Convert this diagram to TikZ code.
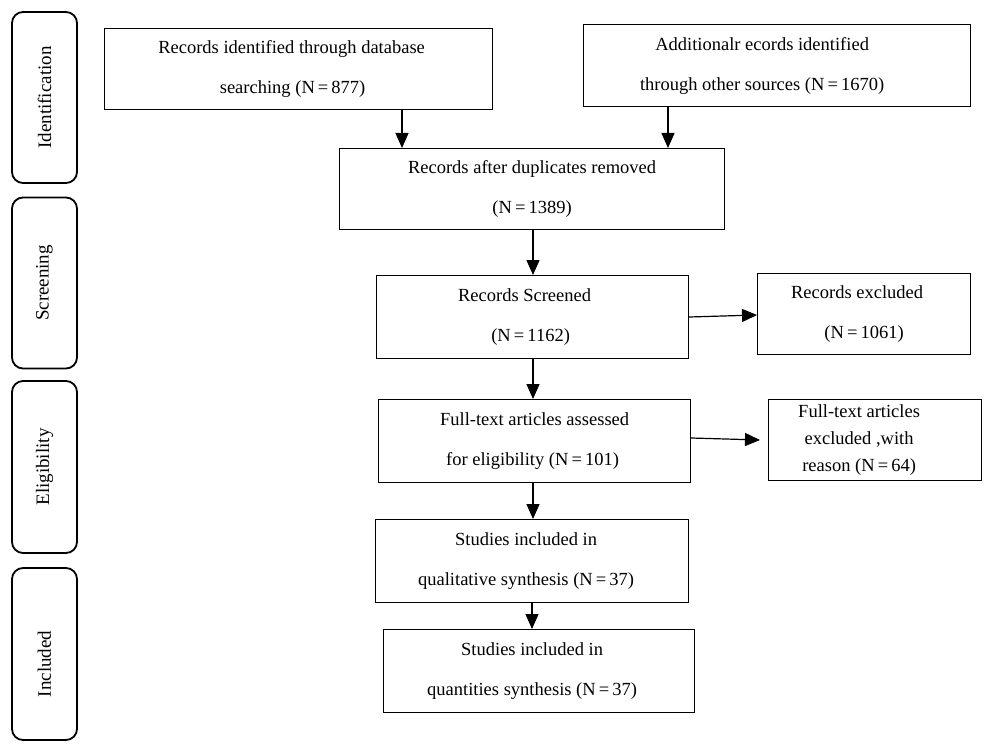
\documentclass[tikz,border=0pt]{standalone}
\usepackage{fontspec}
\setmainfont{Liberation Serif}
\usetikzlibrary{arrows.meta,calc}
\newcommand\shl[1]{\hspace*{-#1pt}}
\begin{document}
\begin{tikzpicture}[x=1pt,y=-1pt,
  box/.style={draw,line width=1.2pt,anchor=north west,inner sep=0pt,align=center,
    font=\fontsize{18.5}{40}\selectfont},
  side/.style={draw,line width=1.8pt,rounded corners=11pt,rotate=90,inner sep=0pt,
    minimum height=65pt,font=\fontsize{19}{20}\selectfont},
  arr/.style={line width=1.2pt,-{Triangle[length=15pt,width=13pt]}}]
\useasboundingbox (0,0) rectangle (1000,751);
% side labels
\node[side,minimum width=171pt] (s1) at (44.5,97.5) {Identification};
\node[side,minimum width=171pt] (s2) at (44.5,283) {Screening};
\node[side,minimum width=172pt] (s3) at (44.5,467) {Eligibility};
\node[side,minimum width=172pt] (s4) at (44.5,654) {\shl{20}Included};
% main boxes
\node[box,minimum width=388pt,minimum height=81pt] (b1) at (104,28)
  {\shl{14}Records identified through database\\\shl{12}searching (N\,=\,877)};
\node[box,minimum width=387pt,minimum height=82pt] (b2) at (583,24)
  {\shl{30}Additionalr ecords identified\\\shl{30}through other sources (N\,=\,1670)};
\node[box,minimum width=385pt,minimum height=81pt] (b3) at (339,148)
  {Records after duplicates removed\\(N\,=\,1389)};
\node[box,minimum width=312pt,minimum height=83pt] (b4) at (376,275)
  {\shl{16}Records Screened\\\shl{4}(N\,=\,1162)};
\node[box,minimum width=213pt,minimum height=81pt] (x1) at (757,273)
  {\shl{14}Records excluded\\(N\,=\,1061)};
\node[box,minimum width=312pt,minimum height=83pt] (b5) at (378,399)
  {Full-text articles assessed\\\shl{4}for eligibility (N\,=\,101)};
\node[box,minimum width=213pt,minimum height=81pt,font=\fontsize{18.5}{27}\selectfont] (x2) at (768,399)
  {\shl{32}Full-text articles\\\shl{32}excluded ,with\\\shl{32}reason (N\,=\,64)};
\node[box,minimum width=313pt,minimum height=83pt] (b6) at (375,519)
  {\shl{12}Studies included in\\\shl{12}qualitative synthesis (N\,=\,37)};
\node[box,minimum width=311pt,minimum height=83pt] (b7) at (383,629)
  {\shl{14}Studies included in\\\shl{14}quantities synthesis (N\,=\,37)};
% connectors
\coordinate (c1) at (402,0);
\coordinate (c2) at (668,0);
\coordinate (c3) at (533,0);
\coordinate (c4) at (532,0);
\draw[arr] (c1 |- b1.south) -- (c1 |- b3.north);
\draw[arr] (c2 |- b2.south) -- (c2 |- b3.north);
\draw[arr] (c3 |- b3.south) -- (c3 |- b4.north);
\draw[arr] (c3 |- b4.south) -- (c3 |- b5.north);
\draw[arr] (c3 |- b5.south) -- (c3 |- b6.north);
\draw[arr] (c4 |- b6.south) -- (c4 |- b7.north);
\coordinate (h1) at (0,317);
\coordinate (h2) at (0,315);
\coordinate (h3) at (0,438);
\coordinate (h4) at (0,440);
\draw[arr] (b4.east |- h1) -- (x1.west |- h2);
\draw[arr] (b5.east |- h3) -- ($(x2.west |- h4)+(-8,0)$);
\end{tikzpicture}
\end{document}
